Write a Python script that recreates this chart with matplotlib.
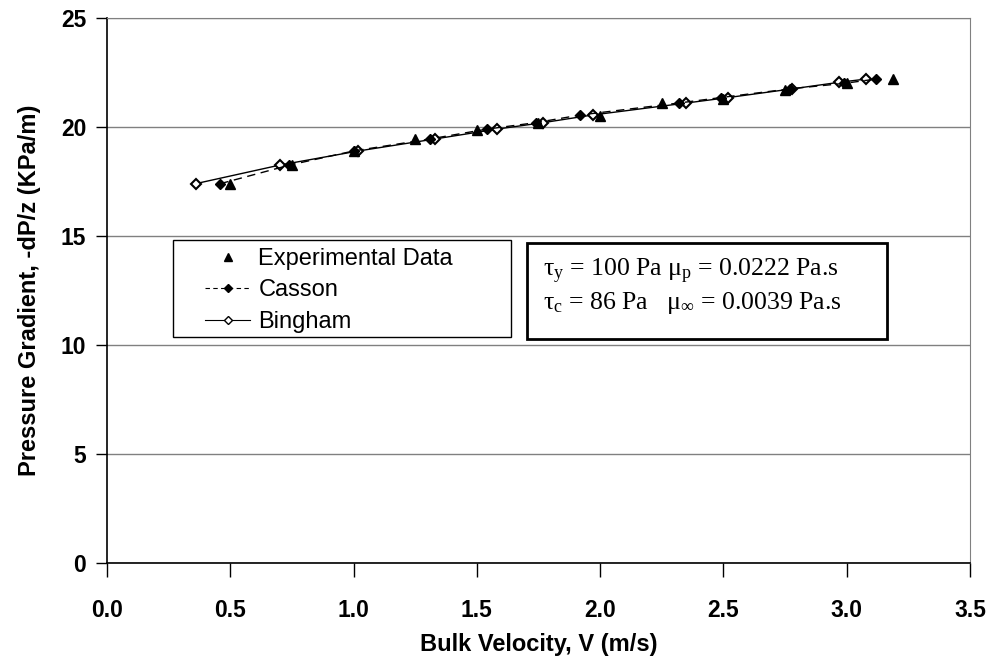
import matplotlib
matplotlib.use("Agg")
import matplotlib.pyplot as plt
from matplotlib.lines import Line2D
from matplotlib.patches import Rectangle

plt.rcParams['font.family'] = ['Liberation Sans', 'DejaVu Sans']
plt.rcParams['mathtext.fontset'] = 'custom'
plt.rcParams['mathtext.rm'] = 'Liberation Serif'
plt.rcParams['mathtext.it'] = 'Liberation Serif'

# measured pressure gradient vs bulk velocity
exp_v = [0.50, 0.75, 1.00, 1.25, 1.50, 1.75, 2.00, 2.25, 2.50, 2.75, 3.00, 3.19]
exp_p = [17.4, 18.25, 18.9, 19.45, 19.85, 20.2, 20.5, 21.1, 21.3, 21.7, 22.0, 22.2]

# Casson model prediction
cas_v = [0.46, 0.74, 1.00, 1.31, 1.54, 1.74, 1.92, 2.32, 2.49, 2.77, 2.99, 3.12]
cas_p = [17.4, 18.25, 18.9, 19.45, 19.9, 20.2, 20.55, 21.1, 21.35, 21.75, 22.0, 22.2]

# Bingham model prediction
bing_v = [0.36, 0.70, 1.02, 1.33, 1.58, 1.77, 1.97, 2.35, 2.52, 2.78, 2.97, 3.08]
bing_p = [17.4, 18.25, 18.9, 19.45, 19.9, 20.2, 20.55, 21.1, 21.35, 21.75, 22.05, 22.2]

xticks = [0.0, 0.5, 1.0, 1.5, 2.0, 2.5, 3.0, 3.5]
yticks = [0, 5, 10, 15, 20, 25]

fig = plt.figure(figsize=(9.95, 6.66), dpi=100)
ax = fig.add_axes([0.1075, 0.1547, 0.8673, 0.8183])

ax.plot(bing_v, bing_p, '-', color='black', lw=1.0, marker='D', ms=5,
        mfc='white', mec='black', mew=1.5, zorder=3)
ax.plot(cas_v, cas_p, '--', color='black', lw=1.0, marker='D', ms=5,
        mfc='black', mec='black', dashes=(6, 4), zorder=4)
ax.plot(exp_v, exp_p, ls='none', marker='^', ms=7, color='black', zorder=5)

ax.set_xlim(0, 3.5)
ax.set_ylim(0, 25)
ax.set_xticks(xticks)
ax.set_xticklabels([f"{t:.1f}" for t in xticks])
ax.set_yticks(yticks)
ax.tick_params(axis='both', direction='out', length=8, width=1.0, labelsize=16.5)
ax.tick_params(axis='x', pad=16, length=10)
ax.tick_params(axis='y', pad=7)
for lab in ax.get_xticklabels() + ax.get_yticklabels():
    lab.set_fontweight('bold')

ax.yaxis.grid(True, color='#808080', lw=1.0)
ax.set_axisbelow(True)
ax.spines['top'].set_color('#808080')
ax.spines['right'].set_color('#808080')
ax.spines['left'].set_linewidth(1.2)
ax.spines['bottom'].set_linewidth(1.2)

ax.set_xlabel('Bulk Velocity, V (m/s)', fontsize=17, fontweight='bold')
ax.set_ylabel('Pressure Gradient, -dP/z (KPa/m)', fontsize=17, fontweight='bold')
ax.xaxis.set_label_coords(0.5, -0.128)
ax.yaxis.set_label_coords(-0.077, 0.5)

# legend frame drawn separately so its size can be set directly
ax.add_patch(Rectangle((0.0765, 0.4147), 0.3917, 0.1783, transform=ax.transAxes,
                       fc='white', ec='black', lw=1.0, zorder=6))
handles = [
    Line2D([], [], ls='none', marker='^', ms=6, color='black'),
    Line2D([], [], ls='--', dashes=(4, 3), color='black', lw=0.8, marker='D', ms=4.5,
           mfc='black'),
    Line2D([], [], ls='-', color='black', lw=0.8, marker='D', ms=4.5, mfc='white',
           mew=1.0),
]
leg = ax.legend(handles, ['Experimental Data', 'Casson', 'Bingham'],
                loc='upper left', bbox_to_anchor=(0.114, 0.578), fontsize=17,
                frameon=False, borderpad=0, labelspacing=0.4, handlelength=1.9,
                handletextpad=0.35, borderaxespad=0)
leg.set_zorder(7)

# model parameter box
ax.add_patch(Rectangle((0.4867, 0.4110), 0.4171, 0.1761, transform=ax.transAxes,
                       fc='white', ec='black', lw=2.0, zorder=6))
ax.text(0.5052, 0.534, "$\\tau_\\mathrm{y}$ = 100 Pa $\\mu_\\mathrm{p}$ = 0.0222 Pa.s",
        transform=ax.transAxes, fontsize=18.5, family='Liberation Serif',
        va='center', ha='left', zorder=7)
ax.text(0.5052, 0.477, "$\\tau_\\mathrm{c}$ = 86 Pa   $\\mu_\\infty$ = 0.0039 Pa.s",
        transform=ax.transAxes, fontsize=18.5, family='Liberation Serif',
        va='center', ha='left', zorder=7)

fig.savefig('out.png', dpi=100)
